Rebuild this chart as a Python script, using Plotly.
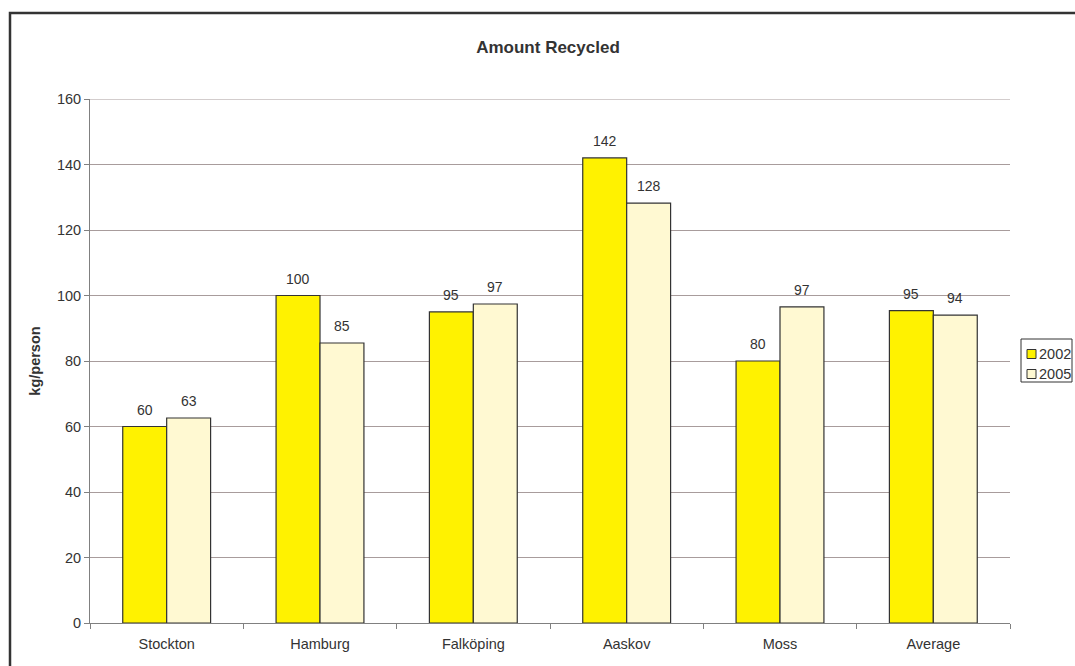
import plotly.graph_objects as go

categories = ["Stockton", "Hamburg", "Falköping", "Aaskov", "Moss", "Average"]
values_2002 = [60, 100, 95, 142, 80, 95.4]
values_2005 = [62.6, 85.5, 97.4, 128.2, 96.5, 94.0]
labels_2002 = ["60", "100", "95", "142", "80", "95"]
labels_2005 = ["63", "85", "97", "128", "97", "94"]
series_names = ["2002", "2005"]
series_colors = ["#FFF200", "#FFF9D2"]

font_family = "Liberation Sans, Arial, sans-serif"
text_color = "#333333"
edge = "#333333"

L, R, T, B = 90, 65, 99, 43
W, H = 1075, 666
pw, ph = W - L - R, H - T - B
bargap = 0.427
bar_px = pw / len(categories) * (1 - bargap) / 2

fig = go.Figure()
for name, vals, col in zip(series_names, [values_2002, values_2005], series_colors):
    fig.add_trace(go.Bar(
        name=name, x=categories, y=vals, showlegend=False,
        marker=dict(color=col, line=dict(color=edge, width=1.2)),
    ))

annotations = []
for labels, vals, sh in [(labels_2002, values_2002, -bar_px / 2), (labels_2005, values_2005, bar_px / 2)]:
    for c, v, t in zip(categories, vals, labels):
        annotations.append(dict(
            x=c, y=v, xref="x", yref="y", text=t, showarrow=False,
            xshift=sh, yshift=7, yanchor="bottom", xanchor="center",
            font=dict(size=14, color=text_color, family=font_family),
        ))

# manual legend
def px_x(x):
    return (x - L) / pw

def px_y(y):
    return (H - B - y) / ph

shapes = [
    dict(type="rect", xref="paper", yref="paper",
         x0=px_x(10), x1=px_x(W + 10), y0=px_y(H + 10), y1=px_y(13),
         line=dict(color="#333333", width=2.5), fillcolor="rgba(0,0,0,0)", layer="below"),
    dict(type="line", xref="paper", yref="y", x0=0, x1=1, y0=160, y1=160,
         line=dict(color="#A89C9C", width=1), layer="below"),
    dict(type="rect", xref="paper", yref="paper",
         x0=px_x(1021), x1=px_x(1072), y0=px_y(382), y1=px_y(339),
         line=dict(color=edge, width=1), fillcolor="white"),
]
for i, (name, col) in enumerate(zip(series_names, series_colors)):
    cy = 354 + i * 20
    shapes.append(dict(type="rect", xref="paper", yref="paper",
                       x0=px_x(1027), x1=px_x(1036), y0=px_y(cy + 4.5), y1=px_y(cy - 4.5),
                       line=dict(color=edge, width=1), fillcolor=col))
    annotations.append(dict(x=px_x(1037), y=px_y(cy), xref="paper", yref="paper",
                            text=name, showarrow=False, xanchor="left", yanchor="middle",
                            font=dict(size=14.5, color=text_color, family=font_family)))

fig.update_layout(
    width=W, height=H,
    margin=dict(l=L, r=R, t=T, b=B, pad=0, autoexpand=False),
    paper_bgcolor="white", plot_bgcolor="white",
    barmode="group", bargap=bargap, bargroupgap=0,
    showlegend=False,
    font=dict(family=font_family, size=14, color=text_color),
    title=dict(text="<b>Amount Recycled</b>", x=548 / W, xanchor="center",
               y=1 - 47 / H, yanchor="middle",
               font=dict(size=17, color=text_color, family=font_family)),
    xaxis=dict(
        showline=True, linecolor="#808080", linewidth=1,
        ticks="outside", tickson="boundaries", ticklen=5, tickcolor="#808080",
        tickfont=dict(size=14.5, color=text_color), showgrid=False,
        ticklabelstandoff=8,
    ),
    yaxis=dict(
        range=[0, 160], dtick=20, showline=True, linecolor="#808080", linewidth=1,
        ticks="outside", ticklen=5, tickcolor="#808080",
        gridcolor="#A89C9C", gridwidth=1, zeroline=False,
        tickfont=dict(size=14.5, color=text_color),
        title=dict(text="<b>kg/person</b>", font=dict(size=14.5, color=text_color), standoff=12),
    ),
    shapes=shapes,
    annotations=annotations,
)

fig.write_html("out.html")
